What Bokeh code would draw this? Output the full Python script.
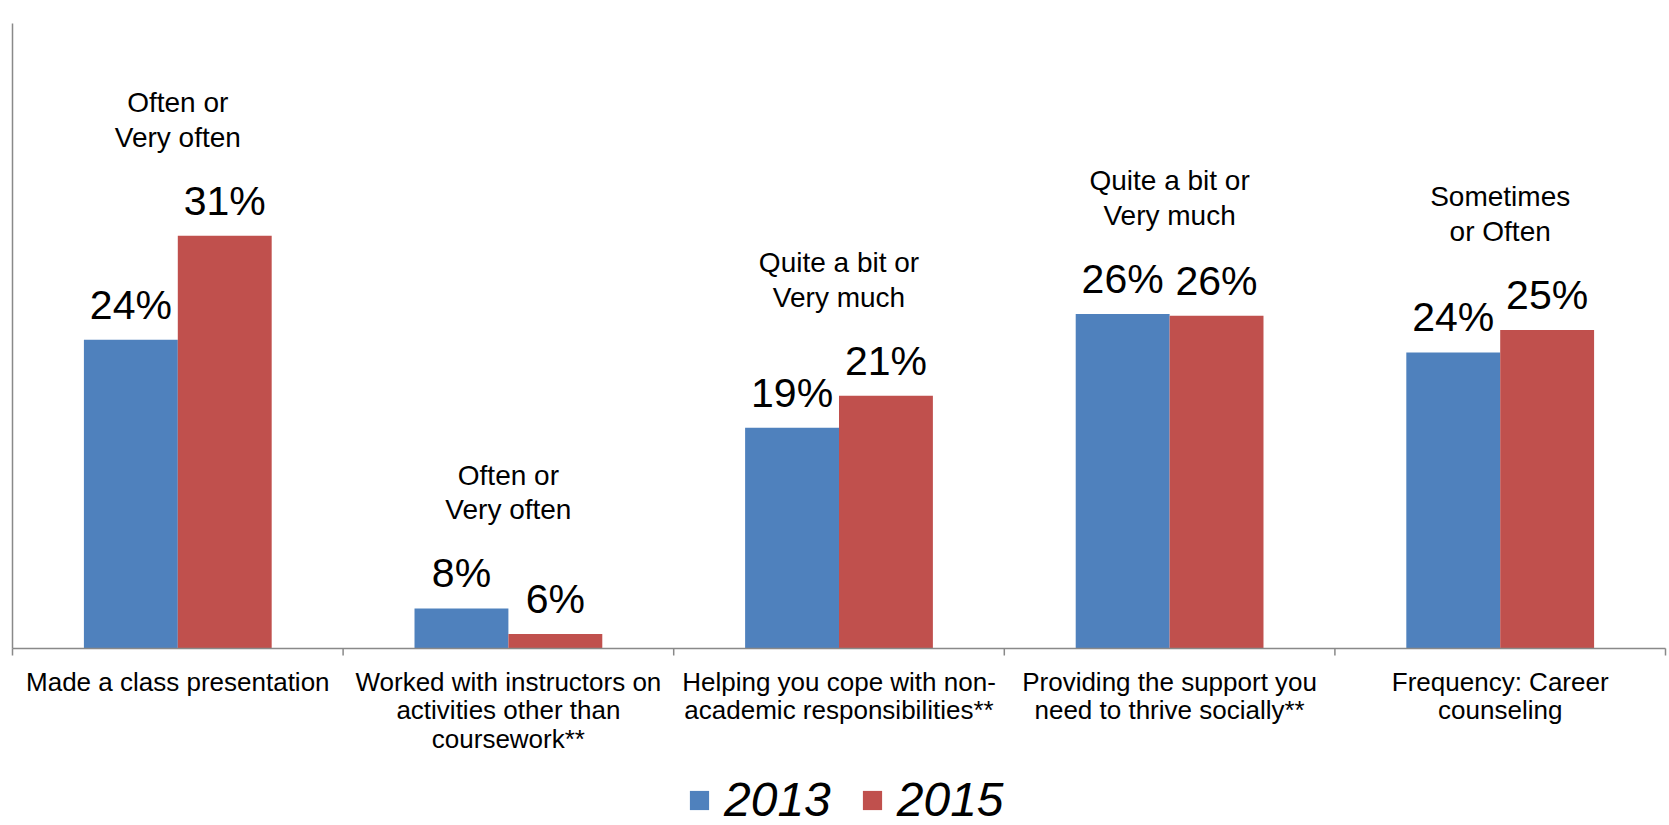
from bokeh.plotting import figure
from bokeh.models import Range1d, Legend, LegendItem
from bokeh.core.properties import value
from bokeh.embed import file_html
from bokeh.resources import INLINE

categories = [
    "Made a class presentation",
    "Worked with instructors on\nactivities other than\ncoursework**",
    "Helping you cope with non-\nacademic responsibilities**",
    "Providing the support you\nneed to thrive socially**",
    "Frequency: Career\ncounseling",
]
response_groups = [
    "Often or\nVery often",
    "Often or\nVery often",
    "Quite a bit or\nVery much",
    "Quite a bit or\nVery much",
    "Sometimes\nor Often",
]
years = ["2013", "2015"]
values_2013 = [24.4, 7.6, 18.9, 26.0, 23.6]
values_2015 = [30.9, 6.0, 20.9, 25.9, 25.0]
colors = ["#4F81BD", "#C0504D"]

FONT = "Liberation Sans"
AXIS_COLOR = "#898989"
W, H = 1669, 825
# plotting area (pixels) inside the canvas
PL, PR, PT, PB = 12, 1665, 23, 648
Y0, Y1 = 5.1, 44.16
n = len(categories)
xppu = (PR - PL) / n
yppu = (PB - PT) / (Y1 - Y0)

p = figure(width=W, height=H, output_backend="svg", toolbar_location=None,
           x_range=Range1d(-PL / xppu, n + (W - PR) / xppu),
           y_range=Range1d(Y0 - (H - PB) / yppu, Y1 + PT / yppu),
           min_border=0)
p.outline_line_color = None
p.xgrid.visible = False
p.ygrid.visible = False
p.xaxis.visible = False
p.yaxis.visible = False

centers = [i + 0.5 for i in range(n)]
bw = 0.284
x13 = [c - bw / 2 for c in centers]
x15 = [c + bw / 2 for c in centers]

r13 = p.vbar(x=x13, top=values_2013, bottom=Y0, width=bw, fill_color=colors[0], line_color=None)
r15 = p.vbar(x=x15, top=values_2015, bottom=Y0, width=bw, fill_color=colors[1], line_color=None)

# axes lines and boundary ticks
p.segment(x0=[0, 0], y0=[Y0, Y0], x1=[0, n], y1=[Y1, Y0], line_color=AXIS_COLOR, line_width=1.5)
bounds = list(range(n + 1))
p.segment(x0=bounds, y0=[Y0] * len(bounds), x1=bounds, y1=[Y0 - 7 / yppu] * len(bounds),
          line_color=AXIS_COLOR, line_width=1.5)

# value labels
lab_kw = dict(text_align="center", text_baseline="middle", text_font=value(FONT),
              text_font_size="41px", text_color="black", y_offset=-35)
p.text(x=x13, y=values_2013, text=[f"{round(v)}%" for v in values_2013], **lab_kw)
p.text(x=x15, y=values_2015, text=[f"{round(v)}%" for v in values_2015], **lab_kw)

# response group annotations
tops = [max(a, b) for a, b in zip(values_2013, values_2015)]
p.text(x=centers, y=tops, text=response_groups, text_align="center", text_baseline="middle",
       text_font=value(FONT), text_font_size="28px", text_color="black",
       text_line_height=1.12, y_offset=-116)

# category labels
p.text(x=centers, y=[Y0] * n, text=categories, text_align="center", text_baseline="top",
       text_font=value(FONT), text_font_size="26px", text_color="black",
       text_line_height=0.96, y_offset=18)

legend = Legend(items=[LegendItem(label=years[0], renderers=[r13]),
                       LegendItem(label=years[1], renderers=[r15])],
                orientation="horizontal", location=(687, -2),
                glyph_width=24, glyph_height=24, label_standoff=13, spacing=29,
                padding=0, margin=0, border_line_color=None, background_fill_alpha=0,
                label_text_font=FONT, label_text_font_size="48px",
                label_text_font_style="italic", label_text_color="black")
p.add_layout(legend, "center")

open("out.html", "w").write(file_html(p, INLINE))
